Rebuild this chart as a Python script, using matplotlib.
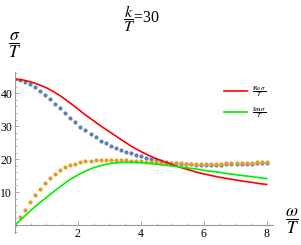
import numpy as np
import matplotlib
matplotlib.use("Agg")
import matplotlib.pyplot as plt
from matplotlib.ticker import MultipleLocator, FixedLocator

plt.rcParams['font.family'] = ['Liberation Serif', 'DejaVu Serif']
plt.rcParams['mathtext.fontset'] = 'stix'

# sampled points (dots)
w_pts = [round(0.16 * i, 2) for i in range(51)]
re_pts = [44.2, 43.9, 43.4, 42.7, 41.8, 40.7, 39.5, 38.2, 36.8, 35.4,
          33.9, 32.5, 31.1, 29.8, 28.7, 27.6, 26.6, 25.6, 24.8, 24.0,
          23.3, 22.7, 22.2, 21.7, 21.2, 20.8, 20.4, 20.0, 19.7, 19.4,
          19.1, 18.9, 18.7, 18.6, 18.5, 18.4, 18.3, 18.3, 18.3, 18.3,
          18.3, 18.3, 18.4, 18.4, 18.5, 18.5, 18.6, 18.6, 18.7, 18.8, 18.8]
im_pts = [0.0, 2.5, 4.7, 7.0, 9.1, 11.0, 12.7, 14.2, 15.5, 16.6,
          17.5, 18.1, 18.6, 19.0, 19.3, 19.5, 19.6, 19.7, 19.7, 19.7,
          19.7, 19.6, 19.6, 19.5, 19.4, 19.3, 19.2, 19.1, 19.0, 18.9,
          18.8, 18.8, 18.7, 18.7, 18.6, 18.6, 18.6, 18.6, 18.6, 18.6,
          18.6, 18.6, 18.7, 18.7, 18.8, 18.8, 18.9, 18.9, 19.0, 19.0, 19.1]

# curves
w_line = [0.0, 0.25, 0.5, 0.75, 1.0, 1.25, 1.5, 1.75, 2.0, 2.25, 2.5, 2.75,
          3.0, 3.25, 3.5, 3.75, 4.0, 4.25, 4.5, 4.75, 5.0, 5.25, 5.5, 5.75,
          6.0, 6.25, 6.5, 6.75, 7.0, 7.25, 7.5, 7.75, 8.0]
re_line = [44.2, 44.0, 43.4, 42.6, 41.6, 40.3, 38.8, 37.0, 35.2, 33.3, 31.6, 29.9,
           28.3, 26.7, 25.1, 23.6, 22.3, 21.1, 20.1, 19.2, 18.3, 17.5, 16.8, 16.1,
           15.5, 15.0, 14.5, 14.1, 13.7, 13.3, 13.0, 12.6, 12.3]
im_line = [0.0, 2.2, 4.4, 6.5, 8.4, 10.3, 12.1, 13.8, 15.2, 16.4, 17.4, 18.1,
           18.6, 18.9, 19.0, 19.0, 18.9, 18.7, 18.5, 18.2, 17.9, 17.6, 17.3, 17.0,
           16.6, 16.3, 16.0, 15.6, 15.3, 15.0, 14.7, 14.4, 14.1]

fig = plt.figure(figsize=(3.01, 2.45), dpi=100)
ax = fig.add_axes([15/301, 12/245, 258/301, 161/245])

ax.plot(w_pts, re_pts, 'o', color='#5E81B5', markersize=3, markeredgewidth=0)
ax.plot(w_pts, im_pts, 'o', color='#E19C24', markersize=3, markeredgewidth=0)
ax.plot(w_line, re_line, color='#FF0000', lw=1.2, label=r'$\dfrac{\mathrm{Re}\,\sigma}{T}$')
ax.plot(w_line, im_line, color='#00EE00', lw=1.2, label=r'$\dfrac{\mathrm{Im}\,\sigma}{T}$')

ax.set_xlim(0, 8.2)
ax.set_ylim(-2.4, 46.4)

for s in ['top', 'right']:
    ax.spines[s].set_visible(False)
ax.spines['left'].set_position(('data', 0))
ax.spines['bottom'].set_position(('data', 0))
for s in ['left', 'bottom']:
    ax.spines[s].set_color('#999999')
    ax.spines[s].set_linewidth(0.8)

ax.xaxis.set_major_locator(FixedLocator([2, 4, 6, 8]))
ax.xaxis.set_minor_locator(MultipleLocator(0.5))
ax.yaxis.set_major_locator(FixedLocator([10, 20, 30, 40]))
ax.yaxis.set_minor_locator(MultipleLocator(2))
ax.tick_params(which='both', direction='in', color='#999999', labelsize=8.5, pad=2)
ax.tick_params(which='major', length=3, width=0.6)
ax.tick_params(which='minor', length=1.6, width=0.5)
ax.patch.set_alpha(0)

leg = ax.legend(loc='center left', bbox_to_anchor=(218/301, 1 - 102/245),
                bbox_transform=fig.transFigure, frameon=False, fontsize=5,
                handlelength=3.3, handletextpad=0.7, labelspacing=1.0)

fig.text(15/301, 1 - 45/245, r'$\dfrac{\sigma}{T}$', fontsize=12.5, ha='center', va='center')
fig.text(292/301, 1 - 221/245, r'$\dfrac{\omega}{T}$', fontsize=12.5, ha='center', va='center')
fig.text(142/301, 1 - 19/245, r'$\dfrac{k}{T}$=30', fontsize=11.5, ha='center', va='center')

fig.savefig('out.png', dpi=100)
